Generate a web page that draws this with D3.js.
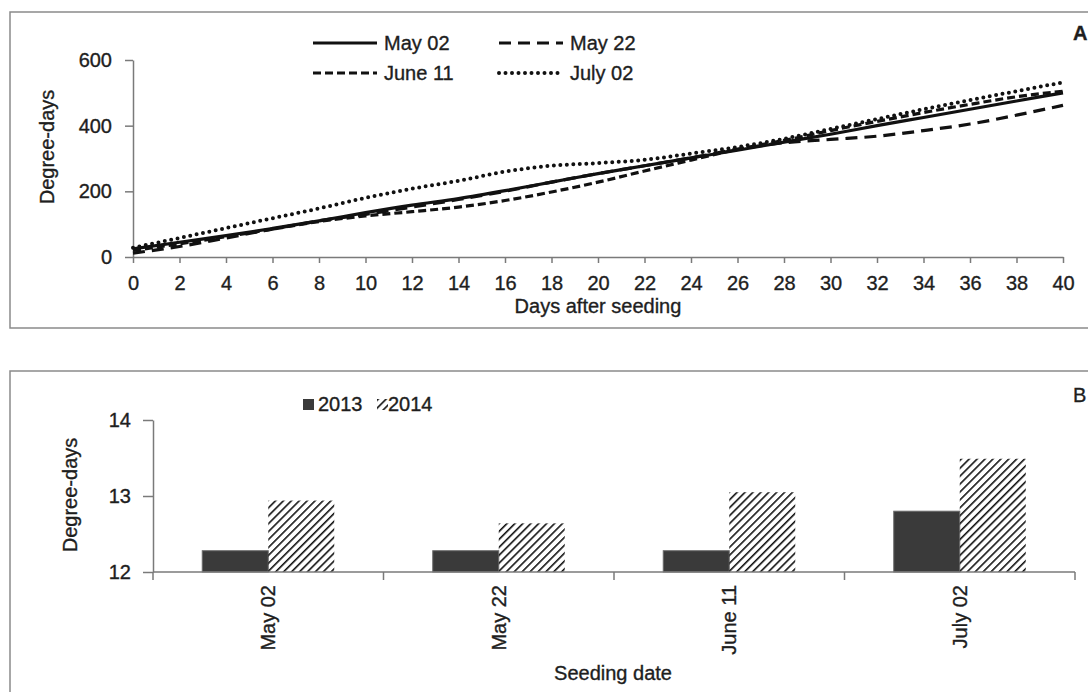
<!DOCTYPE html>
<html>
<head>
<meta charset="utf-8">
<script src="https://cdn.jsdelivr.net/npm/d3@7"></script>
<style>
  body { margin: 0; background: #fff; }
  text { font-family: "Liberation Sans", Arial, sans-serif; fill: #1e1e1e; stroke: #1e1e1e; stroke-width: 0.35px; }
</style>
</head>
<body>
<script>
// panel A: degree-days accumulated by day after seeding
const days = [0, 2, 4, 6, 8, 10, 12, 14, 16, 18, 20, 22, 24, 26, 28, 30, 32, 34, 36, 38, 40];
const may02 = [25, 45, 65, 87, 110, 135, 158, 178, 202, 228, 254, 278, 302, 325, 350, 374, 400, 425, 450, 475, 500];
const may22 = [12, 32, 58, 85, 110, 130, 152, 175, 200, 228, 254, 278, 302, 328, 348, 358, 368, 385, 405, 432, 462];
const june11 = [20, 40, 62, 85, 108, 125, 138, 152, 172, 198, 228, 262, 295, 328, 355, 385, 413, 440, 465, 488, 505];
const july02 = [28, 58, 88, 118, 148, 180, 208, 232, 260, 278, 286, 296, 315, 335, 360, 390, 420, 450, 478, 505, 532];
const xTicksA = d3.range(0, 41, 2);
const yTicksA = [0, 200, 400, 600];

// panel B: degree-days by seeding date and year
const seedDates = ["May 02", "May 22", "June 11", "July 02"];
const years = ["2013", "2014"];
const dd2013 = [12.28, 12.28, 12.28, 12.8];
const dd2014 = [12.94, 12.64, 13.05, 13.49];
const yTicksB = [12, 13, 14];

const FS = 20;

const svg = d3.select("body").append("svg")
  .attr("width", 1088)
  .attr("height", 692);

const defs = svg.append("defs");
defs.append("pattern")
  .attr("id", "hatch")
  .attr("patternUnits", "userSpaceOnUse")
  .attr("width", 5.6)
  .attr("height", 5.6)
  .attr("patternTransform", "rotate(45)")
  .append("line")
  .attr("x1", 0).attr("y1", 0)
  .attr("x2", 0).attr("y2", 5.6)
  .attr("stroke", "#111")
  .attr("stroke-width", 3.2);

const series = [
  {name: "May 02", values: may02, dash: null, width: 3.2},
  {name: "May 22", values: may22, dash: "12,7", width: 3.2},
  {name: "June 11", values: june11, dash: "8,4", width: 3.2},
  {name: "July 02", values: july02, dash: "0,6.5", width: 4}
];

// frames
svg.append("rect")
  .attr("x", 10).attr("y", 12)
  .attr("width", 1090).attr("height", 316)
  .attr("fill", "none").attr("stroke", "#8a8a8a").attr("stroke-width", 1.5);
svg.append("rect")
  .attr("x", 10).attr("y", 371)
  .attr("width", 1090).attr("height", 330)
  .attr("fill", "none").attr("stroke", "#8a8a8a").attr("stroke-width", 1.5);

// ---------- panel A ----------
const xA = d3.scaleLinear().domain([0, 40]).range([133, 1063]);
const yA = d3.scaleLinear().domain([0, 600]).range([257, 60]);

const axA = svg.append("g")
  .attr("transform", "translate(0,257)")
  .call(d3.axisBottom(xA).tickValues(xTicksA).tickSizeInner(6).tickSizeOuter(0).tickPadding(13));
const ayA = svg.append("g")
  .attr("transform", "translate(133,0)")
  .call(d3.axisLeft(yA).tickValues(yTicksA).tickSizeInner(8).tickSizeOuter(0).tickPadding(13));

[axA, ayA].forEach((g) => {
  g.selectAll("path, line").attr("stroke", "#7a7a7a").attr("stroke-width", 1.5);
  g.selectAll("text").attr("font-size", FS).attr("fill", "#1e1e1e")
    .style("font-family", "'Liberation Sans', Arial, sans-serif");
});

const line = d3.line()
  .x((d, i) => xA(days[i]))
  .y((d) => yA(d))
  .curve(d3.curveMonotoneX);

svg.selectAll(".series")
  .data(series).enter()
  .append("path")
  .attr("class", "series")
  .attr("d", (s) => line(s.values))
  .attr("fill", "none")
  .attr("stroke", "#111")
  .attr("stroke-width", (s) => s.width)
  .attr("stroke-linecap", (s) => s.dash === "0,6.5" ? "round" : "butt")
  .attr("stroke-dasharray", (s) => s.dash);

// legend A
const legA = svg.append("g");
series.forEach((s, i) => {
  const lx = i % 2 === 0 ? 313 : 499;
  const ly = i < 2 ? 43 : 73;
  legA.append("line")
    .attr("x1", lx).attr("x2", lx + 64)
    .attr("y1", ly).attr("y2", ly)
    .attr("stroke", "#111")
    .attr("stroke-width", s.width)
    .attr("stroke-linecap", s.dash === "0,6.5" ? "round" : "butt")
    .attr("stroke-dasharray", s.dash);
  legA.append("text")
    .attr("x", lx + 71).attr("y", ly + 7)
    .attr("font-size", FS)
    .text(s.name);
});

svg.append("text")
  .attr("x", 598).attr("y", 313)
  .attr("text-anchor", "middle")
  .attr("font-size", FS)
  .text("Days after seeding");
svg.append("text")
  .attr("transform", "translate(54,147) rotate(-90)")
  .attr("text-anchor", "middle")
  .attr("font-size", FS)
  .text("Degree-days");
svg.append("text")
  .attr("x", 1073).attr("y", 40)
  .attr("font-size", FS)
  .attr("font-weight", "bold")
  .text("A");

// ---------- panel B ----------
const xB = d3.scaleBand().domain(seedDates).range([153, 1075]);
const xSub = d3.scaleBand().domain(years).range([-66, 66]);
const yB = d3.scaleLinear().domain([12, 14]).range([572, 420]);

const rows = seedDates.map((d, i) => ({date: d, vals: [dd2013[i], dd2014[i]]}));

const groups = svg.selectAll(".grp")
  .data(rows).enter()
  .append("g")
  .attr("transform", (d) => "translate(" + (xB(d.date) + xB.bandwidth() / 2) + ",0)");

groups.selectAll("rect")
  .data((d) => d.vals.map((v, j) => ({year: years[j], v: v})))
  .enter().append("rect")
  .attr("x", (d) => xSub(d.year))
  .attr("width", xSub.bandwidth())
  .attr("y", (d) => yB(d.v))
  .attr("height", (d) => yB(12) - yB(d.v))
  .attr("fill", (d) => d.year === "2013" ? "#3a3a3a" : "url(#hatch)")
  .attr("stroke", (d) => d.year === "2013" ? "#6a6a6a" : "none")
  .attr("stroke-width", 1);

// x axis B with ticks at category boundaries
const bounds = seedDates.map((d) => xB(d)).concat([xB.range()[1]]);
svg.append("line")
  .attr("x1", 153).attr("x2", 1075)
  .attr("y1", yB(12)).attr("y2", yB(12))
  .attr("stroke", "#7a7a7a").attr("stroke-width", 1.5);
svg.selectAll(".btick")
  .data(bounds).enter()
  .append("line")
  .attr("x1", (d) => d).attr("x2", (d) => d)
  .attr("y1", yB(12)).attr("y2", yB(12) + 8)
  .attr("stroke", "#7a7a7a").attr("stroke-width", 1.5);
svg.selectAll(".blab")
  .data(seedDates).enter()
  .append("text")
  .attr("transform", (d) => "translate(" + (xB(d) + xB.bandwidth() / 2 + 7) + "," + (yB(12) + 13) + ") rotate(-90)")
  .attr("text-anchor", "end")
  .attr("font-size", FS)
  .text((d) => d);

const ayB = svg.append("g")
  .attr("transform", "translate(153,0)")
  .call(d3.axisLeft(yB).tickValues(yTicksB).tickFormat(d3.format("d"))
    .tickSizeInner(10).tickSizeOuter(0).tickPadding(12));
ayB.selectAll("path, line").attr("stroke", "#7a7a7a").attr("stroke-width", 1.5);
ayB.selectAll("text").attr("font-size", FS).attr("fill", "#1e1e1e")
  .style("font-family", "'Liberation Sans', Arial, sans-serif");

svg.append("text")
  .attr("x", 613).attr("y", 680)
  .attr("text-anchor", "middle")
  .attr("font-size", FS)
  .text("Seeding date");
svg.append("text")
  .attr("transform", "translate(77,495) rotate(-90)")
  .attr("text-anchor", "middle")
  .attr("font-size", FS)
  .text("Degree-days");
svg.append("text")
  .attr("x", 1073).attr("y", 402)
  .attr("font-size", FS)
  .text("B");

// legend B
svg.append("rect")
  .attr("x", 303).attr("y", 399).attr("width", 11).attr("height", 11)
  .attr("fill", "#3a3a3a");
svg.append("text")
  .attr("x", 318).attr("y", 411)
  .attr("font-size", FS)
  .text("2013");
svg.append("rect")
  .attr("x", 377).attr("y", 399).attr("width", 11).attr("height", 11)
  .attr("fill", "url(#hatch)");
svg.append("text")
  .attr("x", 388).attr("y", 411)
  .attr("font-size", FS)
  .text("2014");
</script>
</body>
</html>
